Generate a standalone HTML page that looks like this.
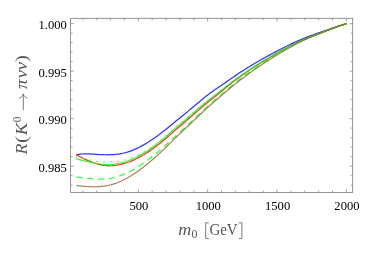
<!DOCTYPE html>
<html><head><meta charset="utf-8"><style>
html,body{margin:0;padding:0;background:#fff;}
svg{display:block;will-change:transform;}
text{font-family:"Liberation Serif",serif;}
</style></head><body>
<svg width="374" height="253" viewBox="0 0 374 253">
<rect width="374" height="253" fill="#fff"/>
<g fill="none" stroke-width="1.25" stroke-linejoin="round" stroke-opacity="0.8">
<path d="M76.40 154.90 L77.90 154.58 L79.40 154.33 L80.90 154.14 L82.40 154.00 L83.90 153.92 L85.40 153.88 L86.90 153.88 L88.40 153.91 L89.90 153.97 L91.40 154.05 L92.90 154.14 L94.40 154.24 L95.90 154.34 L97.40 154.43 L98.90 154.52 L100.40 154.59 L101.90 154.66 L103.40 154.71 L104.90 154.75 L106.40 154.76 L107.90 154.76 L109.40 154.74 L110.90 154.69 L112.40 154.62 L113.90 154.52 L115.40 154.39 L116.90 154.24 L118.40 154.04 L119.90 153.82 L121.40 153.55 L122.90 153.25 L124.40 152.90 L125.90 152.52 L127.40 152.09 L128.90 151.61 L130.40 151.10 L131.90 150.54 L133.40 149.95 L134.90 149.31 L136.40 148.64 L137.90 147.94 L139.40 147.19 L140.90 146.41 L142.40 145.60 L143.90 144.76 L145.40 143.89 L146.90 142.98 L148.40 142.05 L149.90 141.09 L151.40 140.10 L152.90 139.09 L154.40 138.05 L155.90 136.99 L157.40 135.90 L158.90 134.79 L160.40 133.66 L161.90 132.52 L163.40 131.35 L164.90 130.17 L166.40 128.97 L167.90 127.75 L169.40 126.52 L170.90 125.28 L172.40 124.02 L173.90 122.76 L175.40 121.51 L176.90 120.33 L178.40 119.14 L179.90 117.94 L181.40 116.74 L182.90 115.53 L184.40 114.32 L185.90 113.10 L187.40 111.89 L188.90 110.62 L190.40 109.32 L191.90 108.05 L193.40 106.79 L194.90 105.53 L196.40 104.27 L197.90 103.02 L199.40 101.78 L200.90 100.52 L202.40 99.24 L203.90 97.99 L205.40 96.77 L206.90 95.61 L208.40 94.48 L209.90 93.36 L211.40 92.26 L212.90 91.18 L214.40 90.11 L215.90 89.06 L217.40 88.07 L218.90 87.07 L220.40 86.06 L221.90 85.01 L223.40 83.97 L224.90 82.92 L226.40 81.87 L227.90 80.83 L229.40 79.78 L230.90 78.74 L232.40 77.69 L233.90 76.66 L235.40 75.63 L236.90 74.61 L238.40 73.59 L239.90 72.59 L241.40 71.62 L242.90 70.66 L244.40 69.72 L245.90 68.78 L247.40 67.84 L248.90 66.92 L250.40 66.00 L251.90 65.10 L253.40 64.20 L254.90 63.31 L256.40 62.42 L257.90 61.55 L259.40 60.68 L260.90 59.82 L262.40 58.97 L263.90 58.13 L265.40 57.30 L266.90 56.47 L268.40 55.66 L269.90 54.85 L271.40 54.02 L272.90 53.21 L274.40 52.40 L275.90 51.60 L277.40 50.80 L278.90 50.02 L280.40 49.25 L281.90 48.48 L283.40 47.72 L284.90 46.97 L286.40 46.23 L287.90 45.49 L289.40 44.77 L290.90 44.06 L292.40 43.36 L293.90 42.67 L295.40 41.99 L296.90 41.32 L298.40 40.66 L299.90 40.01 L301.40 39.38 L302.90 38.76 L304.40 38.14 L305.90 37.54 L307.40 36.95 L308.90 36.37 L310.40 35.81 L311.90 35.26 L313.40 34.72 L314.90 34.19 L316.40 33.66 L317.90 33.12 L319.40 32.60 L320.90 32.09 L322.40 31.57 L323.90 31.03 L325.40 30.50 L326.90 29.98 L328.40 29.47 L329.90 28.96 L331.40 28.44 L332.90 27.93 L334.40 27.42 L335.90 26.92 L337.40 26.44 L338.90 25.96 L340.40 25.49 L341.90 25.03 L343.40 24.58 L344.90 24.14 L346.60 23.65" stroke="#0000ff"/>
<path d="M76.40 154.91 L77.90 155.69 L79.40 156.47 L80.90 157.23 L82.40 157.97 L83.90 158.69 L85.40 159.39 L86.90 160.07 L88.40 160.72 L89.90 161.35 L91.40 161.93 L92.90 162.49 L94.40 163.01 L95.90 163.49 L97.40 163.94 L98.90 164.34 L100.40 164.70 L101.90 165.02 L103.40 165.28 L104.90 165.50 L106.40 165.67 L107.90 165.79 L109.40 165.79 L110.90 165.75 L112.40 165.66 L113.90 165.52 L115.40 165.33 L116.90 165.10 L118.40 164.83 L119.90 164.54 L121.40 164.21 L122.90 163.84 L124.40 163.43 L125.90 162.98 L127.40 162.50 L128.90 161.98 L130.40 161.42 L131.90 160.83 L133.40 160.19 L134.90 159.52 L136.40 158.79 L137.90 158.02 L139.40 157.22 L140.90 156.39 L142.40 155.55 L143.90 154.67 L145.40 153.76 L146.90 152.83 L148.40 151.86 L149.90 150.87 L151.40 149.81 L152.90 148.73 L154.40 147.62 L155.90 146.48 L157.40 145.33 L158.90 144.15 L160.40 142.96 L161.90 141.74 L163.40 140.51 L164.90 139.26 L166.40 137.98 L167.90 136.69 L169.40 135.38 L170.90 134.06 L172.40 132.72 L173.90 131.38 L175.40 130.05 L176.90 128.79 L178.40 127.53 L179.90 126.25 L181.40 124.97 L182.90 123.68 L184.40 122.40 L185.90 121.10 L187.40 119.81 L188.90 118.49 L190.40 117.16 L191.90 115.85 L193.40 114.54 L194.90 113.24 L196.40 111.94 L197.90 110.65 L199.40 109.36 L200.90 108.06 L202.40 106.76 L203.90 105.47 L205.40 104.20 L206.90 102.98 L208.40 101.76 L209.90 100.55 L211.40 99.35 L212.90 98.15 L214.40 96.96 L215.90 95.78 L217.40 94.60 L218.90 93.43 L220.40 92.22 L221.90 90.97 L223.40 89.73 L224.90 88.50 L226.40 87.28 L227.90 86.07 L229.40 84.88 L230.90 83.69 L232.40 82.53 L233.90 81.37 L235.40 80.23 L236.90 79.11 L238.40 77.99 L239.90 76.90 L241.40 75.82 L242.90 74.75 L244.40 73.69 L245.90 72.65 L247.40 71.61 L248.90 70.59 L250.40 69.57 L251.90 68.57 L253.40 67.57 L254.90 66.59 L256.40 65.62 L257.90 64.65 L259.40 63.70 L260.90 62.76 L262.40 61.83 L263.90 60.90 L265.40 59.99 L266.90 59.09 L268.40 58.20 L269.90 57.32 L271.40 56.42 L272.90 55.54 L274.40 54.66 L275.90 53.79 L277.40 52.93 L278.90 52.09 L280.40 51.25 L281.90 50.42 L283.40 49.60 L284.90 48.80 L286.40 48.00 L287.90 47.21 L289.40 46.43 L290.90 45.67 L292.40 44.92 L293.90 44.18 L295.40 43.45 L296.90 42.73 L298.40 42.01 L299.90 41.31 L301.40 40.64 L302.90 39.97 L304.40 39.31 L305.90 38.66 L307.40 38.03 L308.90 37.41 L310.40 36.80 L311.90 36.21 L313.40 35.63 L314.90 35.05 L316.40 34.48 L317.90 33.91 L319.40 33.35 L320.90 32.79 L322.40 32.23 L323.90 31.65 L325.40 31.08 L326.90 30.52 L328.40 29.97 L329.90 29.43 L331.40 28.87 L332.90 28.31 L334.40 27.76 L335.90 27.23 L337.40 26.70 L338.90 26.18 L340.40 25.67 L341.90 25.17 L343.40 24.67 L344.90 24.19 L346.60 23.65" stroke="#ff0000"/>
<path d="M76.40 159.01 L77.90 159.34 L79.40 159.68 L80.90 160.03 L82.40 160.38 L83.90 160.74 L85.40 161.09 L86.90 161.44 L88.40 161.78 L89.90 162.12 L91.40 162.45 L92.90 162.76 L94.40 163.06 L95.90 163.34 L97.40 163.61 L98.90 163.85 L100.40 164.06 L101.90 164.25 L103.40 164.41 L104.90 164.54 L106.40 164.63 L107.90 164.69 L109.40 164.64 L110.90 164.55 L112.40 164.41 L113.90 164.24 L115.40 164.02 L116.90 163.75 L118.40 163.46 L119.90 163.16 L121.40 162.81 L122.90 162.42 L124.40 161.99 L125.90 161.53 L127.40 161.03 L128.90 160.49 L130.40 159.91 L131.90 159.30 L133.40 158.65 L134.90 157.96 L136.40 157.21 L137.90 156.42 L139.40 155.60 L140.90 154.77 L142.40 153.91 L143.90 153.03 L145.40 152.11 L146.90 151.17 L148.40 150.20 L149.90 149.20 L151.40 148.13 L152.90 147.04 L154.40 145.92 L155.90 144.78 L157.40 143.62 L158.90 142.44 L160.40 141.24 L161.90 140.02 L163.40 138.78 L164.90 137.53 L166.40 136.25 L167.90 134.95 L169.40 133.64 L170.90 132.32 L172.40 130.99 L173.90 129.64 L175.40 128.32 L176.90 127.06 L178.40 125.80 L179.90 124.53 L181.40 123.25 L182.90 121.98 L184.40 120.70 L185.90 119.41 L187.40 118.13 L188.90 116.82 L190.40 115.50 L191.90 114.21 L193.40 112.92 L194.90 111.63 L196.40 110.35 L197.90 109.08 L199.40 107.81 L200.90 106.54 L202.40 105.27 L203.90 104.00 L205.40 102.75 L206.90 101.56 L208.40 100.37 L209.90 99.20 L211.40 98.02 L212.90 96.86 L214.40 95.71 L215.90 94.55 L217.40 93.41 L218.90 92.28 L220.40 91.11 L221.90 89.90 L223.40 88.71 L224.90 87.52 L226.40 86.34 L227.90 85.18 L229.40 84.03 L230.90 82.89 L232.40 81.77 L233.90 80.65 L235.40 79.55 L236.90 78.47 L238.40 77.40 L239.90 76.34 L241.40 75.29 L242.90 74.25 L244.40 73.23 L245.90 72.21 L247.40 71.20 L248.90 70.20 L250.40 69.21 L251.90 68.23 L253.40 67.26 L254.90 66.30 L256.40 65.35 L257.90 64.40 L259.40 63.47 L260.90 62.55 L262.40 61.63 L263.90 60.73 L265.40 59.83 L266.90 58.95 L268.40 58.07 L269.90 57.20 L271.40 56.32 L272.90 55.45 L274.40 54.58 L275.90 53.72 L277.40 52.88 L278.90 52.04 L280.40 51.21 L281.90 50.39 L283.40 49.58 L284.90 48.78 L286.40 47.99 L287.90 47.21 L289.40 46.43 L290.90 45.67 L292.40 44.93 L293.90 44.20 L295.40 43.47 L296.90 42.75 L298.40 42.04 L299.90 41.34 L301.40 40.67 L302.90 40.00 L304.40 39.35 L305.90 38.70 L307.40 38.06 L308.90 37.44 L310.40 36.84 L311.90 36.25 L313.40 35.66 L314.90 35.09 L316.40 34.52 L317.90 33.94 L319.40 33.38 L320.90 32.82 L322.40 32.26 L323.90 31.68 L325.40 31.11 L326.90 30.55 L328.40 29.99 L329.90 29.45 L331.40 28.88 L332.90 28.33 L334.40 27.78 L335.90 27.24 L337.40 26.71 L338.90 26.19 L340.40 25.67 L341.90 25.17 L343.40 24.68 L344.90 24.19 L346.60 23.65" stroke="#00ff00"/>
<path d="M76.40 157.30 L77.90 157.62 L79.40 157.93 L80.90 158.25 L82.40 158.57 L83.90 158.89 L85.40 159.20 L86.90 159.51 L88.40 159.81 L89.90 160.10 L91.40 160.38 L92.90 160.64 L94.40 160.89 L95.90 161.13 L97.40 161.34 L98.90 161.54 L100.40 161.71 L101.90 161.85 L103.40 161.97 L104.90 162.06 L106.40 162.12 L107.90 162.15 L109.40 162.12 L110.90 162.04 L112.40 161.94 L113.90 161.80 L115.40 161.63 L116.90 161.43 L118.40 161.20 L119.90 160.97 L121.40 160.70 L122.90 160.39 L124.40 160.05 L125.90 159.66 L127.40 159.24 L128.90 158.78 L130.40 158.28 L131.90 157.75 L133.40 157.17 L134.90 156.55 L136.40 155.87 L137.90 155.15 L139.40 154.39 L140.90 153.61 L142.40 152.80 L143.90 151.96 L145.40 151.09 L146.90 150.18 L148.40 149.24 L149.90 148.28 L151.40 147.24 L152.90 146.18 L154.40 145.09 L155.90 143.97 L157.40 142.83 L158.90 141.67 L160.40 140.49 L161.90 139.29 L163.40 138.07 L164.90 136.83 L166.40 135.56 L167.90 134.27 L169.40 132.98 L170.90 131.66 L172.40 130.34 L173.90 129.01 L175.40 127.69 L176.90 126.44 L178.40 125.19 L179.90 123.93 L181.40 122.66 L182.90 121.39 L184.40 120.12 L185.90 118.85 L187.40 117.57 L188.90 116.27 L190.40 114.97 L191.90 113.69 L193.40 112.41 L194.90 111.14 L196.40 109.87 L197.90 108.62 L199.40 107.37 L200.90 106.11 L202.40 104.86 L203.90 103.61 L205.40 102.39 L206.90 101.22 L208.40 100.05 L209.90 98.90 L211.40 97.75 L212.90 96.61 L214.40 95.47 L215.90 94.34 L217.40 93.23 L218.90 92.11 L220.40 90.97 L221.90 89.78 L223.40 88.59 L224.90 87.42 L226.40 86.25 L227.90 85.10 L229.40 83.96 L230.90 82.82 L232.40 81.70 L233.90 80.59 L235.40 79.50 L236.90 78.41 L238.40 77.34 L239.90 76.28 L241.40 75.23 L242.90 74.20 L244.40 73.18 L245.90 72.16 L247.40 71.16 L248.90 70.16 L250.40 69.18 L251.90 68.20 L253.40 67.23 L254.90 66.27 L256.40 65.32 L257.90 64.38 L259.40 63.45 L260.90 62.52 L262.40 61.61 L263.90 60.71 L265.40 59.81 L266.90 58.93 L268.40 58.05 L269.90 57.18 L271.40 56.30 L272.90 55.43 L274.40 54.56 L275.90 53.71 L277.40 52.86 L278.90 52.02 L280.40 51.19 L281.90 50.37 L283.40 49.56 L284.90 48.76 L286.40 47.97 L287.90 47.18 L289.40 46.41 L290.90 45.65 L292.40 44.90 L293.90 44.17 L295.40 43.44 L296.90 42.72 L298.40 42.01 L299.90 41.31 L301.40 40.64 L302.90 39.97 L304.40 39.31 L305.90 38.66 L307.40 38.03 L308.90 37.41 L310.40 36.80 L311.90 36.21 L313.40 35.63 L314.90 35.05 L316.40 34.48 L317.90 33.91 L319.40 33.34 L320.90 32.78 L322.40 32.23 L323.90 31.65 L325.40 31.08 L326.90 30.51 L328.40 29.96 L329.90 29.42 L331.40 28.85 L332.90 28.30 L334.40 27.75 L335.90 27.21 L337.40 26.68 L338.90 26.17 L340.40 25.66 L341.90 25.16 L343.40 24.67 L344.90 24.19 L346.60 23.65" stroke="#00ff00" stroke-dasharray="0.2 6.8" stroke-width="1.4" stroke-linecap="round"/>
<path d="M76.40 177.00 L77.90 177.18 L79.40 177.36 L80.90 177.55 L82.40 177.74 L83.90 177.92 L85.40 178.10 L86.90 178.28 L88.40 178.44 L89.90 178.59 L91.40 178.73 L92.90 178.86 L94.40 178.96 L95.90 179.05 L97.40 179.11 L98.90 179.15 L100.40 179.16 L101.90 179.14 L103.40 179.08 L104.90 179.00 L106.40 178.88 L107.90 178.72 L109.40 178.52 L110.90 178.27 L112.40 177.98 L113.90 177.65 L115.40 177.27 L116.90 176.85 L118.40 176.39 L119.90 175.88 L121.40 175.34 L122.90 174.75 L124.40 174.13 L125.90 173.47 L127.40 172.77 L128.90 172.04 L130.40 171.27 L131.90 170.47 L133.40 169.63 L134.90 168.76 L136.40 167.86 L137.90 166.93 L139.40 165.96 L140.90 164.97 L142.40 163.95 L143.90 162.91 L145.40 161.83 L146.90 160.73 L148.40 159.61 L149.90 158.46 L151.40 157.29 L152.90 156.10 L154.40 154.89 L155.90 153.66 L157.40 152.41 L158.90 151.13 L160.40 149.85 L161.90 148.54 L163.40 147.22 L164.90 145.89 L166.40 144.54 L167.90 143.18 L169.40 141.81 L170.90 140.42 L172.40 139.03 L173.90 137.62 L175.40 136.23 L176.90 134.89 L178.40 133.53 L179.90 132.18 L181.40 130.82 L182.90 129.45 L184.40 128.08 L185.90 126.71 L187.40 125.34 L188.90 123.93 L190.40 122.50 L191.90 121.08 L193.40 119.66 L194.90 118.25 L196.40 116.84 L197.90 115.43 L199.40 114.03 L200.90 112.62 L202.40 111.21 L203.90 109.80 L205.40 108.41 L206.90 107.03 L208.40 105.66 L209.90 104.30 L211.40 102.96 L212.90 101.64 L214.40 100.32 L215.90 99.03 L217.40 97.76 L218.90 96.50 L220.40 95.24 L221.90 93.99 L223.40 92.73 L224.90 91.48 L226.40 90.24 L227.90 88.99 L229.40 87.75 L230.90 86.52 L232.40 85.29 L233.90 84.07 L235.40 82.86 L236.90 81.66 L238.40 80.48 L239.90 79.30 L241.40 78.17 L242.90 77.04 L244.40 75.93 L245.90 74.83 L247.40 73.74 L248.90 72.67 L250.40 71.60 L251.90 70.55 L253.40 69.50 L254.90 68.47 L256.40 67.45 L257.90 66.44 L259.40 65.44 L260.90 64.46 L262.40 63.48 L263.90 62.52 L265.40 61.56 L266.90 60.62 L268.40 59.69 L269.90 58.77 L271.40 57.83 L272.90 56.90 L274.40 55.97 L275.90 55.06 L277.40 54.16 L278.90 53.27 L280.40 52.39 L281.90 51.52 L283.40 50.67 L284.90 49.82 L286.40 48.98 L287.90 48.16 L289.40 47.34 L290.90 46.53 L292.40 45.73 L293.90 44.93 L295.40 44.15 L296.90 43.38 L298.40 42.61 L299.90 41.86 L301.40 41.15 L302.90 40.46 L304.40 39.78 L305.90 39.11 L307.40 38.45 L308.90 37.81 L310.40 37.18 L311.90 36.57 L313.40 35.96 L314.90 35.37 L316.40 34.78 L317.90 34.18 L319.40 33.60 L320.90 33.03 L322.40 32.45 L323.90 31.86 L325.40 31.27 L326.90 30.69 L328.40 30.13 L329.90 29.57 L331.40 28.99 L332.90 28.42 L334.40 27.86 L335.90 27.31 L337.40 26.77 L338.90 26.23 L340.40 25.71 L341.90 25.20 L343.40 24.70 L344.90 24.20 L346.60 23.65" stroke="#00ff00" stroke-dasharray="6.3 4.5"/>
<path d="M76.40 185.50 L77.90 185.67 L79.40 185.83 L80.90 185.99 L82.40 186.13 L83.90 186.27 L85.40 186.39 L86.90 186.50 L88.40 186.60 L89.90 186.67 L91.40 186.73 L92.90 186.76 L94.40 186.77 L95.90 186.75 L97.40 186.71 L98.90 186.64 L100.40 186.54 L101.90 186.40 L103.40 186.23 L104.90 186.03 L106.40 185.78 L107.90 185.50 L109.40 185.17 L110.90 184.80 L112.40 184.39 L113.90 183.93 L115.40 183.43 L116.90 182.88 L118.40 182.29 L119.90 181.66 L121.40 181.00 L122.90 180.29 L124.40 179.54 L125.90 178.76 L127.40 177.93 L128.90 177.08 L130.40 176.19 L131.90 175.26 L133.40 174.30 L134.90 173.31 L136.40 172.29 L137.90 171.23 L139.40 170.15 L140.90 169.04 L142.40 167.90 L143.90 166.73 L145.40 165.54 L146.90 164.32 L148.40 163.08 L149.90 161.82 L151.40 160.54 L152.90 159.23 L154.40 157.91 L155.90 156.57 L157.40 155.21 L158.90 153.84 L160.40 152.45 L161.90 151.05 L163.40 149.63 L164.90 148.20 L166.40 146.76 L167.90 145.31 L169.40 143.85 L170.90 142.39 L172.40 140.91 L173.90 139.43 L175.40 137.97 L176.90 136.56 L178.40 135.14 L179.90 133.73 L181.40 132.31 L182.90 130.89 L184.40 129.48 L185.90 128.07 L187.40 126.66 L188.90 125.22 L190.40 123.76 L191.90 122.32 L193.40 120.88 L194.90 119.45 L196.40 118.03 L197.90 116.62 L199.40 115.23 L200.90 113.82 L202.40 112.42 L203.90 111.02 L205.40 109.64 L206.90 108.27 L208.40 106.90 L209.90 105.55 L211.40 104.21 L212.90 102.88 L214.40 101.55 L215.90 100.24 L217.40 98.96 L218.90 97.68 L220.40 96.40 L221.90 95.13 L223.40 93.86 L224.90 92.59 L226.40 91.33 L227.90 90.07 L229.40 88.82 L230.90 87.57 L232.40 86.33 L233.90 85.10 L235.40 83.88 L236.90 82.68 L238.40 81.48 L239.90 80.30 L241.40 79.15 L242.90 78.01 L244.40 76.89 L245.90 75.77 L247.40 74.67 L248.90 73.57 L250.40 72.49 L251.90 71.42 L253.40 70.36 L254.90 69.31 L256.40 68.27 L257.90 67.25 L259.40 66.23 L260.90 65.23 L262.40 64.24 L263.90 63.25 L265.40 62.28 L266.90 61.32 L268.40 60.37 L269.90 59.43 L271.40 58.47 L272.90 57.52 L274.40 56.58 L275.90 55.65 L277.40 54.74 L278.90 53.83 L280.40 52.93 L281.90 52.04 L283.40 51.17 L284.90 50.30 L286.40 49.45 L287.90 48.60 L289.40 47.77 L290.90 46.94 L292.40 46.12 L293.90 45.31 L295.40 44.51 L296.90 43.72 L298.40 42.94 L299.90 42.17 L301.40 41.45 L302.90 40.74 L304.40 40.04 L305.90 39.36 L307.40 38.68 L308.90 38.02 L310.40 37.39 L311.90 36.76 L313.40 36.14 L314.90 35.53 L316.40 34.93 L317.90 34.32 L319.40 33.73 L320.90 33.14 L322.40 32.56 L323.90 31.95 L325.40 31.35 L326.90 30.77 L328.40 30.19 L329.90 29.62 L331.40 29.04 L332.90 28.46 L334.40 27.89 L335.90 27.34 L337.40 26.79 L338.90 26.25 L340.40 25.73 L341.90 25.21 L343.40 24.70 L344.90 24.20 L346.60 23.65" stroke="#996633"/>
</g>
<rect x="70.6" y="18.3" width="282.10" height="174.20" fill="none" stroke="#7a7a7a" stroke-width="0.8"/>
<path d="M82.82 192.50 v-2.00 M82.82 18.30 v2.00 M96.69 192.50 v-2.00 M96.69 18.30 v2.00 M110.56 192.50 v-2.00 M110.56 18.30 v2.00 M124.43 192.50 v-2.00 M124.43 18.30 v2.00 M138.30 192.50 v-3.20 M138.30 18.30 v3.20 M152.17 192.50 v-2.00 M152.17 18.30 v2.00 M166.04 192.50 v-2.00 M166.04 18.30 v2.00 M179.91 192.50 v-2.00 M179.91 18.30 v2.00 M193.78 192.50 v-2.00 M193.78 18.30 v2.00 M207.65 192.50 v-3.20 M207.65 18.30 v3.20 M221.52 192.50 v-2.00 M221.52 18.30 v2.00 M235.39 192.50 v-2.00 M235.39 18.30 v2.00 M249.26 192.50 v-2.00 M249.26 18.30 v2.00 M263.13 192.50 v-2.00 M263.13 18.30 v2.00 M277.00 192.50 v-3.20 M277.00 18.30 v3.20 M290.87 192.50 v-2.00 M290.87 18.30 v2.00 M304.74 192.50 v-2.00 M304.74 18.30 v2.00 M318.61 192.50 v-2.00 M318.61 18.30 v2.00 M332.48 192.50 v-2.00 M332.48 18.30 v2.00 M346.35 192.50 v-3.20 M346.35 18.30 v3.20 M70.60 23.65 h3.20 M352.70 23.65 h-3.20 M70.60 33.15 h2.00 M352.70 33.15 h-2.00 M70.60 42.65 h2.00 M352.70 42.65 h-2.00 M70.60 52.15 h2.00 M352.70 52.15 h-2.00 M70.60 61.65 h2.00 M352.70 61.65 h-2.00 M70.60 71.15 h3.20 M352.70 71.15 h-3.20 M70.60 80.65 h2.00 M352.70 80.65 h-2.00 M70.60 90.15 h2.00 M352.70 90.15 h-2.00 M70.60 99.65 h2.00 M352.70 99.65 h-2.00 M70.60 109.15 h2.00 M352.70 109.15 h-2.00 M70.60 118.65 h3.20 M352.70 118.65 h-3.20 M70.60 128.15 h2.00 M352.70 128.15 h-2.00 M70.60 137.65 h2.00 M352.70 137.65 h-2.00 M70.60 147.15 h2.00 M352.70 147.15 h-2.00 M70.60 156.65 h2.00 M352.70 156.65 h-2.00 M70.60 166.15 h3.20 M352.70 166.15 h-3.20 M70.60 175.65 h2.00 M352.70 175.65 h-2.00 M70.60 185.15 h2.00 M352.70 185.15 h-2.00 " stroke="#7a7a7a" stroke-width="0.7" fill="none"/>
<g font-size="13.2" fill="#000"><text x="138.90" y="210.3" text-anchor="middle" textLength="18.9" lengthAdjust="spacingAndGlyphs">500</text><text x="208.25" y="210.3" text-anchor="middle" textLength="25.2" lengthAdjust="spacingAndGlyphs">1000</text><text x="277.60" y="210.3" text-anchor="middle" textLength="25.2" lengthAdjust="spacingAndGlyphs">1500</text><text x="346.95" y="210.3" text-anchor="middle" textLength="25.2" lengthAdjust="spacingAndGlyphs">2000</text><text x="66.9" y="29.25" text-anchor="end" textLength="28.4" lengthAdjust="spacingAndGlyphs">1.000</text><text x="66.9" y="76.75" text-anchor="end" textLength="28.4" lengthAdjust="spacingAndGlyphs">0.995</text><text x="66.9" y="124.25" text-anchor="end" textLength="28.4" lengthAdjust="spacingAndGlyphs">0.990</text><text x="66.9" y="171.75" text-anchor="end" textLength="28.4" lengthAdjust="spacingAndGlyphs">0.985</text></g>
<g fill="#585858" font-size="16.5">
<text x="178.3" y="234.7" font-style="italic" textLength="13" lengthAdjust="spacingAndGlyphs">m</text>
<text x="191.4" y="237.6" font-size="12">0</text>
<path d="M208.7 222.8 H205.7 V238.6 H208.7 M238.9 222.8 H241.9 V238.6 H238.9" fill="none" stroke="#585858" stroke-width="0.8"/>
<text x="209.4" y="234.8" font-size="17.2" textLength="28.2" lengthAdjust="spacingAndGlyphs">GeV</text>
<g transform="translate(26.7,154.6) rotate(-90)">
<text x="0" y="0" font-style="italic" textLength="10.9" lengthAdjust="spacingAndGlyphs">R</text>
<text x="11.5" y="0" textLength="7" lengthAdjust="spacingAndGlyphs">(</text>
<text x="19.3" y="0" font-style="italic" textLength="12.4" lengthAdjust="spacingAndGlyphs">K</text>
<text x="32.3" y="-5.8" font-size="11.5">0</text>
<path d="M44.9 -3.4 H60.2 M56.6 -6.9 C57.4 -4.9 58.8 -3.9 60.7 -3.4 C58.8 -2.9 57.4 -1.9 56.6 0.1" fill="none" stroke="#585858" stroke-width="0.8" stroke-linecap="round"/>
<text x="65.5" y="0" font-style="italic" textLength="9.6" lengthAdjust="spacingAndGlyphs">π</text>
<text x="76.3" y="0" font-style="italic" textLength="8.2" lengthAdjust="spacingAndGlyphs">ν</text>
<text x="84.3" y="0" font-style="italic" textLength="8.2" lengthAdjust="spacingAndGlyphs">ν</text>
<text x="92.5" y="0" textLength="7" lengthAdjust="spacingAndGlyphs">)</text>
</g>
</g>
</svg>
</body></html>
